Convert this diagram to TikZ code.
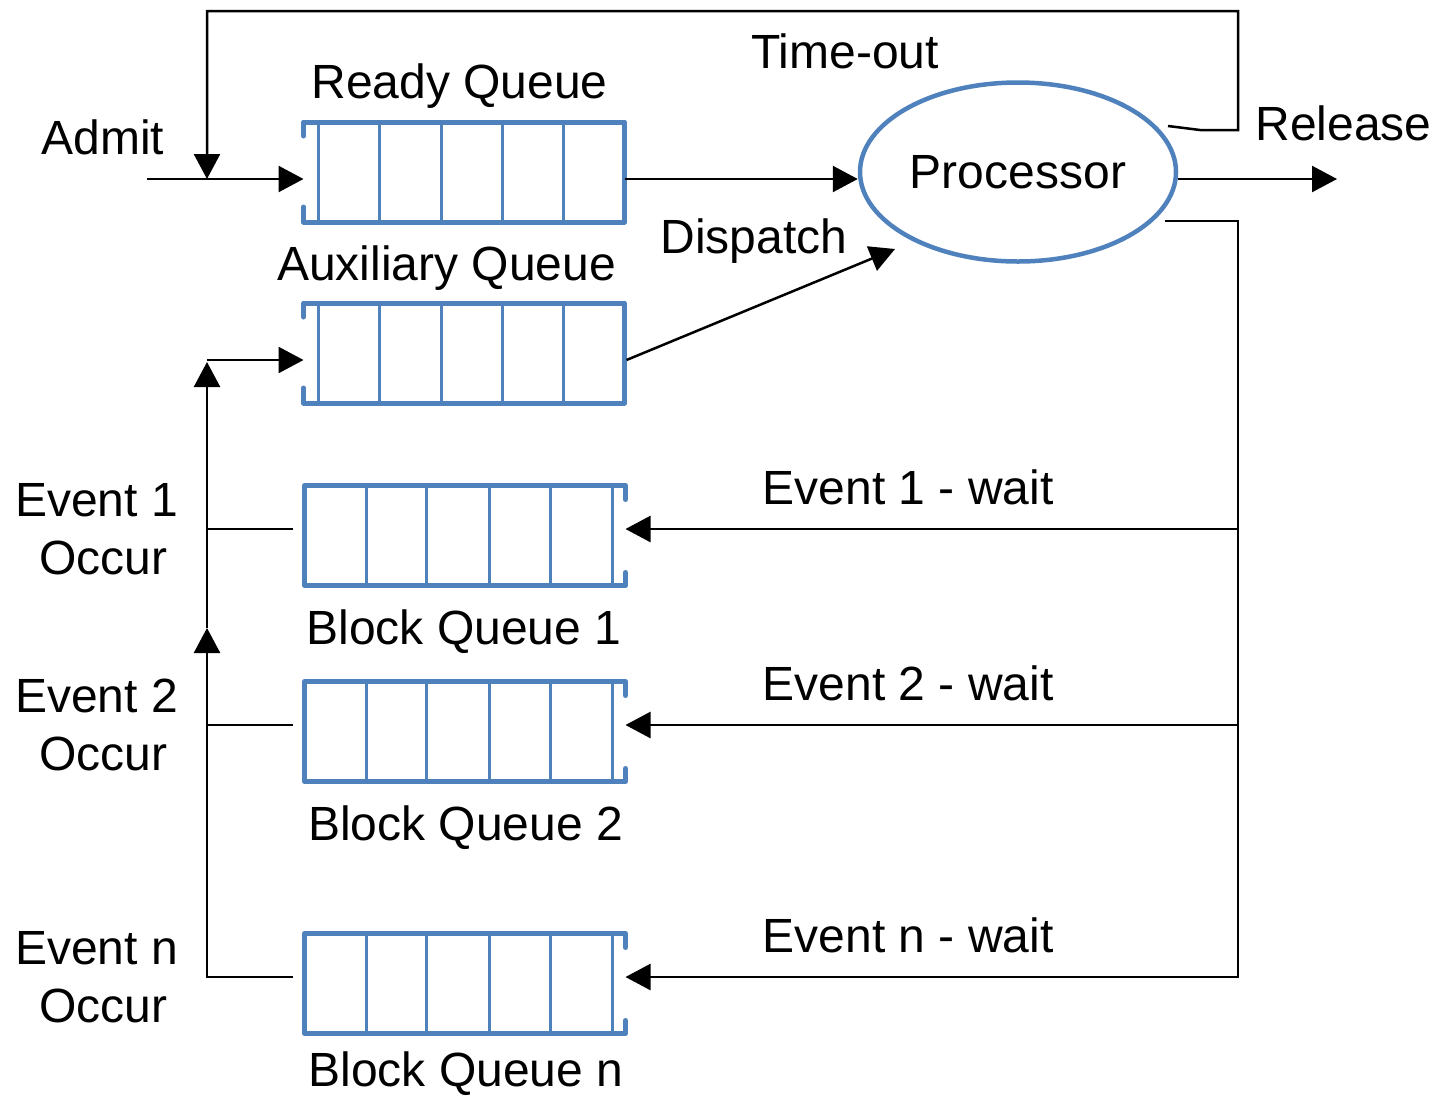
\documentclass[tikz,border=0pt]{standalone}
\usepackage{fontspec}
\setmainfont{Liberation Sans}
\usetikzlibrary{arrows.meta,shapes.geometric,calc}
\definecolor{qblue}{RGB}{79,129,189}

% queue open on the left (entry side), five cells
\newcommand\readyqueue[1]{%
  \draw[qthick] ($(#1.north west)+(0,14)$) -- (#1.north west) -- (#1.north east)
     -- (#1.south east) -- (#1.south west) -- ($(#1.south west)+(0,-15)$);
  \draw[qthin] ($(#1.north west)+(15,0)$) -- ($(#1.south west)+(15,0)$);
  \foreach \d in {76,138,199,260}
    \draw[qthin] ($(#1.north west)+(\d,0)$) -- ($(#1.south west)+(\d,0)$);
}
% queue open on the right (entry side), five cells
\newcommand\blockqueue[1]{%
  \draw[qthick] ($(#1.north east)+(0,14)$) -- (#1.north east) -- (#1.north west)
     -- (#1.south west) -- (#1.south east) -- ($(#1.south east)+(0,-13)$);
  \draw[qthin] ($(#1.north east)+(-13,0)$) -- ($(#1.south east)+(-13,0)$);
  \foreach \d in {62,122,185,246}
    \draw[qthin] ($(#1.north west)+(\d,0)$) -- ($(#1.south west)+(\d,0)$);
}

\begin{document}
\begin{tikzpicture}[x=1pt,y=-1pt,
  lbl/.style={font=\fontsize{48}{57}\selectfont, inner sep=0pt},
  queuebox/.style={minimum width=321pt, minimum height=100pt, inner sep=0pt, outer sep=0pt},
  conn/.style={line width=2.5pt},
  arr/.style={conn, -{Triangle[length=25pt,width=26pt]}},
  qthick/.style={draw=qblue, line width=5pt, line join=round, line cap=round},
  qthin/.style={draw=qblue, line width=2.5pt}]

\useasboundingbox (0,0) rectangle (1435,1096);

% queues
\node[queuebox] (rq)  at (464,172)   {};
\node[queuebox] (aq)  at (464,353)   {};
\node[queuebox] (bq1) at (465,535.5) {};
\node[queuebox] (bq2) at (465,731.5) {};
\node[queuebox] (bqn) at (465,983.5) {};
\readyqueue{rq}
\readyqueue{aq}
\blockqueue{bq1}
\blockqueue{bq2}
\blockqueue{bqn}

% processor
\node[lbl, draw=qblue, line width=4.5pt, ellipse, minimum width=316pt,
      minimum height=179pt] (proc) at (1018,172) {Processor};

% labels
\node[lbl, anchor=base] (admit)   at (103,154)   {Admit};
\node[lbl, anchor=base] (rqlbl)   at (459.5,98)  {Ready Queue};
\node[lbl, anchor=base] (tolbl)   at (845,68)    {Time-out};
\node[lbl, anchor=base] (rellbl)  at (1343.5,140) {Release};
\node[lbl, anchor=base] (aqlbl)   at (446.5,280) {Auxiliary Queue};
\node[lbl, anchor=base] (displbl) at (754,253)   {Dispatch};
\node[lbl, anchor=base] (w1lbl)   at (908,504)   {Event 1 - wait};
\node[lbl, anchor=base] (w2lbl)   at (908,700)   {Event 2 - wait};
\node[lbl, anchor=base] (wnlbl)   at (908,952)   {Event n - wait};
\node[lbl, anchor=base] (b1lbl)   at (464,644)   {Block Queue 1};
\node[lbl, anchor=base] (b2lbl)   at (465.5,840) {Block Queue 2};
\node[lbl, anchor=base] (bnlbl)   at (466,1086)  {Block Queue n};
\node[lbl, anchor=base west] (e1a) at (15,516)  {Event 1};
\node[lbl, anchor=base west] (e1b) at (39,574)  {Occur};
\node[lbl, anchor=base west] (e2a) at (15,712)  {Event 2};
\node[lbl, anchor=base west] (e2b) at (39,770)  {Occur};
\node[lbl, anchor=base west] (ena) at (15,964)  {Event n};
\node[lbl, anchor=base west] (enb) at (39,1022) {Occur};

% connection points
\coordinate (admitstart) at (147,179);
\coordinate (admitjoin)  at (207,179);
\coordinate (rqin)  at ($(rq.west)+(0,7)$);
\coordinate (rqout) at ($(rq.east)+(0,7)$);
\coordinate (aqin)  at ($(aq.west)+(0,7)$);
\coordinate (aqout) at ($(aq.east)+(2,7)$);
\coordinate (dispend) at (895,249);
\coordinate (tostart) at (1168,126);
\coordinate (relend)  at (1337,179);
\coordinate (waitstart) at (1165,221);
\coordinate (bq1in)  at ($(bq1.east)+(0,-6.5)$);
\coordinate (bq2in)  at ($(bq2.east)+(0,-6.5)$);
\coordinate (bqnin)  at ($(bqn.east)+(0,-6.5)$);
\coordinate (bq1out) at ($(bq1.west)+(-12,-6.5)$);
\coordinate (bq2out) at ($(bq2.west)+(-12,-6.5)$);
\coordinate (bqnout) at ($(bqn.west)+(-12,-6.5)$);
\coordinate (rbus) at (1238,0);
\coordinate (lbus) at (207,0);
\coordinate (upmid) at (207,628);
\coordinate (uptop) at (207,362);
\coordinate (auxjoin) at (207,360);

% admit and time-out loop
\draw[arr] (admitstart) -- (rqin);
\draw[arr] (tostart) -- (1200,130) -- (1238,130) -- (1238,11) -- (207,11) -- (admitjoin);

% dispatch and release
\draw[arr] (rqout) -- (rqout -| proc.west);
\draw[arr] (aqout) -- (dispend);
\draw[arr] (proc.east |- rqout) -- (relend);

% event waits
\draw[arr] (waitstart) -- (waitstart -| rbus) -- (bqnin -| rbus) -- (bqnin);
\draw[arr] (bq1in -| rbus) -- (bq1in);
\draw[arr] (bq2in -| rbus) -- (bq2in);

% event occurrences
\draw[arr] (bqnout) -- (bqnout -| lbus) -- (upmid);
\draw[arr] (upmid) -- (uptop);
\draw[arr] (auxjoin) -- (aqin);
\draw[conn] (bq1out) -- (bq1out -| lbus);
\draw[conn] (bq2out) -- (bq2out -| lbus);

\end{tikzpicture}
\end{document}
